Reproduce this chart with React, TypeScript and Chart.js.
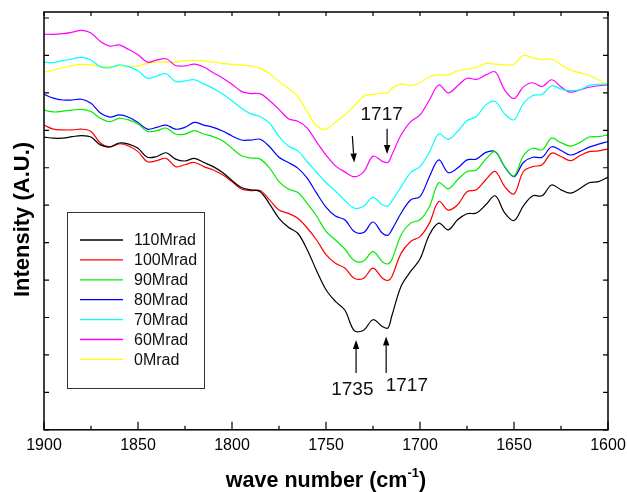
import React, { useEffect, useRef } from "react";
import { Chart, registerables } from "chart.js";

Chart.register(...registerables);

const FONT = "'Liberation Sans', Arial, Helvetica, sans-serif";

// wave numbers (cm-1)
const wavenumbers = [
  1900, 1895, 1890, 1885, 1880, 1875, 1870, 1865, 1860, 1855,
  1850, 1845, 1840, 1835, 1830, 1825, 1820, 1815, 1810, 1805,
  1800, 1795, 1790, 1785, 1780, 1775, 1770, 1765, 1760, 1755,
  1750, 1745, 1740, 1735, 1730, 1725, 1720, 1717,
  1715, 1710, 1705, 1700, 1695, 1690, 1685, 1680, 1675, 1670,
  1665, 1660, 1655, 1650, 1645, 1640, 1635, 1630, 1625, 1620,
  1615, 1610, 1605, 1600,
];

const mrad110 = [
  7.82, 7.79, 7.79, 7.83, 7.86, 7.82, 7.61, 7.56, 7.66, 7.63,
  7.52, 7.28, 7.30, 7.40, 7.23, 7.18, 7.25, 7.14, 7.03, 6.87,
  6.66, 6.47, 6.41, 6.36, 6.03, 5.65, 5.41, 5.25, 4.81, 4.25,
  3.74, 3.43, 3.20, 2.65, 2.66, 2.94, 2.76, 2.72,
  3.04, 3.84, 4.23, 4.56, 5.21, 5.52, 5.34, 5.61, 5.77, 5.79,
  6.01, 6.25, 5.80, 5.59, 5.98, 6.25, 6.25, 6.54, 6.41, 6.32,
  6.44, 6.60, 6.63, 6.75,
];
const mrad100 = [
  8.14, 8.03, 8.01, 8.01, 8.03, 7.97, 7.66, 7.55, 7.64, 7.58,
  7.43, 7.16, 7.19, 7.25, 7.03, 7.08, 7.14, 7.03, 6.94, 6.81,
  6.63, 6.43, 6.39, 6.39, 6.14, 5.87, 5.78, 5.65, 5.39, 5.07,
  4.68, 4.45, 4.32, 4.05, 4.05, 4.32, 4.05, 3.99,
  4.09, 4.72, 5.03, 5.16, 5.52, 6.10, 5.87, 6.01, 6.36, 6.41,
  6.68, 6.90, 6.50, 6.30, 6.90, 7.03, 7.08, 7.39, 7.30, 7.19,
  7.32, 7.43, 7.45, 7.50,
];
const mrad90 = [
  8.54, 8.49, 8.51, 8.54, 8.56, 8.50, 8.32, 8.23, 8.32, 8.28,
  8.17, 7.97, 7.99, 8.06, 7.90, 7.90, 7.99, 7.90, 7.83, 7.72,
  7.52, 7.32, 7.26, 7.23, 6.99, 6.63, 6.43, 6.34, 6.05, 5.71,
  5.30, 5.07, 4.83, 4.52, 4.51, 4.76, 4.49, 4.43,
  4.54, 5.21, 5.52, 5.61, 5.96, 6.60, 6.44, 6.68, 6.90, 6.94,
  7.23, 7.43, 7.03, 6.78, 7.32, 7.52, 7.48, 7.79, 7.67, 7.58,
  7.67, 7.82, 7.83, 7.88,
];
const mrad80 = [
  8.96, 8.86, 8.81, 8.81, 8.83, 8.72, 8.46, 8.35, 8.41, 8.35,
  8.21, 8.03, 8.08, 8.14, 8.03, 8.08, 8.21, 8.14, 8.08, 7.98,
  7.85, 7.74, 7.74, 7.76, 7.56, 7.28, 7.14, 6.99, 6.72, 6.32,
  5.95, 5.71, 5.61, 5.30, 5.27, 5.55, 5.25, 5.20,
  5.34, 5.79, 6.14, 6.23, 6.76, 7.21, 6.87, 6.99, 7.21, 7.23,
  7.41, 7.43, 7.03, 6.76, 7.14, 7.28, 7.28, 7.56, 7.46, 7.34,
  7.43, 7.55, 7.63, 7.70,
];
const mrad70 = [
  9.82, 9.81, 9.86, 9.91, 9.95, 9.88, 9.70, 9.67, 9.75, 9.70,
  9.59, 9.39, 9.45, 9.51, 9.30, 9.32, 9.35, 9.24, 9.12, 8.97,
  8.79, 8.59, 8.44, 8.37, 8.19, 7.83, 7.58, 7.45, 7.16, 6.88,
  6.60, 6.38, 6.13, 5.92, 5.97, 6.21, 6.01, 5.98,
  6.11, 6.49, 6.87, 7.03, 7.42, 7.90, 7.76, 7.97, 8.26, 8.37,
  8.68, 8.77, 8.44, 8.28, 8.72, 8.93, 8.96, 9.19, 9.10, 9.06,
  9.08, 9.20, 9.23, 9.23,
];
const mrad60 = [
  10.57, 10.56, 10.58, 10.62, 10.67, 10.60, 10.37, 10.25, 10.28, 10.16,
  10.02, 9.82, 9.88, 9.91, 9.73, 9.72, 9.77, 9.69, 9.54, 9.40,
  9.23, 9.04, 8.98, 8.98, 8.79, 8.56, 8.31, 8.24, 8.06, 7.69,
  7.34, 7.05, 6.89, 6.76, 6.89, 7.31, 7.17, 7.14,
  7.34, 7.88, 8.23, 8.41, 8.81, 9.21, 9.00, 9.19, 9.39, 9.36,
  9.48, 9.56, 9.08, 8.85, 9.16, 9.27, 9.17, 9.35, 9.16, 9.02,
  9.08, 9.15, 9.19, 9.21,
];
const mrad0 = [
  9.55, 9.61, 9.67, 9.73, 9.76, 9.75, 9.70, 9.70, 9.72, 9.70,
  9.72, 9.79, 9.83, 9.82, 9.82, 9.86, 9.87, 9.85, 9.82, 9.79,
  9.76, 9.74, 9.72, 9.66, 9.51, 9.30, 9.12, 8.90, 8.50, 8.12,
  8.03, 8.22, 8.41, 8.65, 8.91, 8.96, 8.99, 9.00,
  9.11, 9.24, 9.19, 9.27, 9.43, 9.48, 9.48, 9.59, 9.63, 9.68,
  9.79, 9.77, 9.75, 9.76, 10.00, 9.93, 9.89, 9.90, 9.75, 9.61,
  9.54, 9.47, 9.35, 9.19,
];

const seriesLabels = ["110Mrad", "100Mrad", "90Mrad", "80Mrad", "70Mrad", "60Mrad", "0Mrad"];
const seriesValues = [mrad110, mrad100, mrad90, mrad80, mrad70, mrad60, mrad0];
const seriesColors = ["#000000", "#ff0000", "#00ee00", "#0000ff", "#00ffff", "#ff00ff", "#ffff00"];

const xMajorTicks = [1900, 1850, 1800, 1750, 1700, 1650, 1600];
const xMinorTicks = [1875, 1825, 1775, 1725, 1675, 1625];
const yTicks = [0, 1, 2, 3, 4, 5, 6, 7, 8, 9, 10, 11];

// arrows: start (x0,y0) -> tip (x1,y1) in data units
const arrowX0 = [1734, 1718, 1736, 1717.5];
const arrowY0 = [1.52, 1.52, 7.85, 8.04];
const arrowX1 = [1734, 1718, 1735, 1717.5];
const arrowY1 = [2.40, 2.49, 7.14, 7.37];

const noteTexts = ["1735", "1717", "1717"];
const noteX = [1736, 1707, 1720.4];
const noteY = [1.07, 1.17, 8.41];

const decorPlugin = {
  id: "decor",
  afterDraw(chart: any) {
    const ctx = chart.ctx;
    const { left, right, top, bottom } = chart.chartArea;
    const xs = chart.scales.x;
    const ys = chart.scales.y;
    ctx.save();
    // frame
    ctx.strokeStyle = "#000";
    ctx.lineWidth = 1.5;
    ctx.strokeRect(left, top, right - left, bottom - top);
    // inward ticks
    ctx.lineWidth = 1.2;
    ctx.beginPath();
    xMajorTicks.forEach((v) => {
      const p = xs.getPixelForValue(v);
      ctx.moveTo(p, bottom);
      ctx.lineTo(p, bottom - 8);
      ctx.moveTo(p, top);
      ctx.lineTo(p, top + 4);
    });
    xMinorTicks.forEach((v) => {
      const p = xs.getPixelForValue(v);
      ctx.moveTo(p, bottom);
      ctx.lineTo(p, bottom - 4);
      ctx.moveTo(p, top);
      ctx.lineTo(p, top + 4);
    });
    yTicks.forEach((v) => {
      const p = ys.getPixelForValue(v);
      ctx.moveTo(left, p);
      ctx.lineTo(left + 5, p);
      ctx.moveTo(right, p);
      ctx.lineTo(right - 5, p);
    });
    ctx.stroke();

    // arrows
    ctx.lineWidth = 1.2;
    ctx.fillStyle = "#000";
    for (let i = 0; i < arrowX0.length; i++) {
      const ax = xs.getPixelForValue(arrowX0[i]);
      const ay = ys.getPixelForValue(arrowY0[i]);
      const bx = xs.getPixelForValue(arrowX1[i]);
      const by = ys.getPixelForValue(arrowY1[i]);
      const ang = Math.atan2(by - ay, bx - ax);
      const hl = 9;
      const hw = 3.2;
      const baseX = bx - hl * Math.cos(ang);
      const baseY = by - hl * Math.sin(ang);
      ctx.beginPath();
      ctx.moveTo(ax, ay);
      ctx.lineTo(baseX, baseY);
      ctx.stroke();
      ctx.beginPath();
      ctx.moveTo(bx, by);
      ctx.lineTo(baseX + hw * Math.sin(ang), baseY - hw * Math.cos(ang));
      ctx.lineTo(baseX - hw * Math.sin(ang), baseY + hw * Math.cos(ang));
      ctx.closePath();
      ctx.fill();
    }

    // annotation texts
    ctx.font = `19px ${FONT}`;
    ctx.textAlign = "center";
    ctx.textBaseline = "middle";
    ctx.fillStyle = "#111";
    noteTexts.forEach((t, i) => {
      ctx.fillText(t, xs.getPixelForValue(noteX[i]), ys.getPixelForValue(noteY[i]));
    });

    // legend
    const lx = left + 23;
    const ly = top + 200;
    ctx.strokeStyle = "#333";
    ctx.lineWidth = 1;
    ctx.strokeRect(lx + 0.5, ly + 0.5, 137, 176);
    ctx.font = `16px ${FONT}`;
    ctx.textAlign = "left";
    ctx.textBaseline = "middle";
    seriesLabels.forEach((lab, i) => {
      const ry = ly + 28 + i * 19.9;
      ctx.strokeStyle = seriesColors[i];
      ctx.lineWidth = 1.3;
      ctx.beginPath();
      ctx.moveTo(lx + 13, ry);
      ctx.lineTo(lx + 56, ry);
      ctx.stroke();
      ctx.fillStyle = "#111";
      ctx.fillText(lab, lx + 67, ry + 1);
    });

    // y title
    ctx.save();
    ctx.translate(29, 219.5);
    ctx.rotate(-Math.PI / 2);
    ctx.font = `bold 22px ${FONT}`;
    ctx.textAlign = "center";
    ctx.textBaseline = "alphabetic";
    ctx.fillStyle = "#000";
    ctx.fillText("Intensity (A.U.)", 0, 0);
    ctx.restore();

    // x title with superscript
    const main = "wave number (cm";
    const sup = "-1";
    const close = ")";
    ctx.font = `bold 21.5px ${FONT}`;
    const w1 = ctx.measureText(main).width;
    const w3 = ctx.measureText(close).width;
    ctx.font = `bold 13px ${FONT}`;
    const w2 = ctx.measureText(sup).width;
    const total = w1 + w2 + w3;
    const cx = (left + right) / 2;
    const ty = 481;
    let x = cx - total / 2;
    ctx.textAlign = "left";
    ctx.textBaseline = "middle";
    ctx.fillStyle = "#000";
    ctx.font = `bold 21.5px ${FONT}`;
    ctx.fillText(main, x, ty);
    x += w1;
    ctx.font = `bold 13px ${FONT}`;
    ctx.fillText(sup, x, ty - 8);
    x += w2;
    ctx.font = `bold 21.5px ${FONT}`;
    ctx.fillText(close, x, ty);
    ctx.restore();
  },
};

export default function App() {
  const canvasRef = useRef<HTMLCanvasElement | null>(null);

  useEffect(() => {
    if (!canvasRef.current) return;
    Chart.defaults.color = "#000";
    const chart = new Chart(canvasRef.current, {
      type: "line",
      data: {
        datasets: seriesLabels.map((lab, i) => ({
          label: lab,
          data: wavenumbers.map((w, j) => ({ x: w, y: seriesValues[i][j] })),
          borderColor: seriesColors[i],
          backgroundColor: seriesColors[i],
          borderWidth: 1.2,
          pointRadius: 0,
          fill: false,
          tension: 0.35,
        })),
      },
      options: {
        responsive: false,
        maintainAspectRatio: false,
        animation: false,
        layout: { padding: { left: 44, right: 19, top: 12, bottom: 31 } },
        plugins: {
          legend: { display: false },
          tooltip: { enabled: false },
        },
        scales: {
          x: {
            type: "linear",
            reverse: true,
            min: 1600,
            max: 1900,
            grid: { display: false, drawTicks: false },
            border: { display: false },
            afterFit: (scale: any) => {
              scale.paddingLeft = 0;
              scale.paddingRight = 0;
            },
            ticks: {
              stepSize: 50,
              padding: 6,
              color: "#000",
              maxRotation: 0,
              autoSkip: false,
              font: { size: 16, family: FONT },
              callback: (v: any) => String(v),
            },
          },
          y: {
            display: false,
            min: 0,
            max: 11.16,
            ticks: { stepSize: 1 },
          },
        },
      },
      plugins: [decorPlugin],
    });
    return () => chart.destroy();
  }, []);

  return (
    <div style={{ position: "absolute", left: 0, top: 0, width: 627, height: 492, background: "#fff" }}>
      <canvas ref={canvasRef} width={627} height={492} style={{ display: "block" }} />
    </div>
  );
}
